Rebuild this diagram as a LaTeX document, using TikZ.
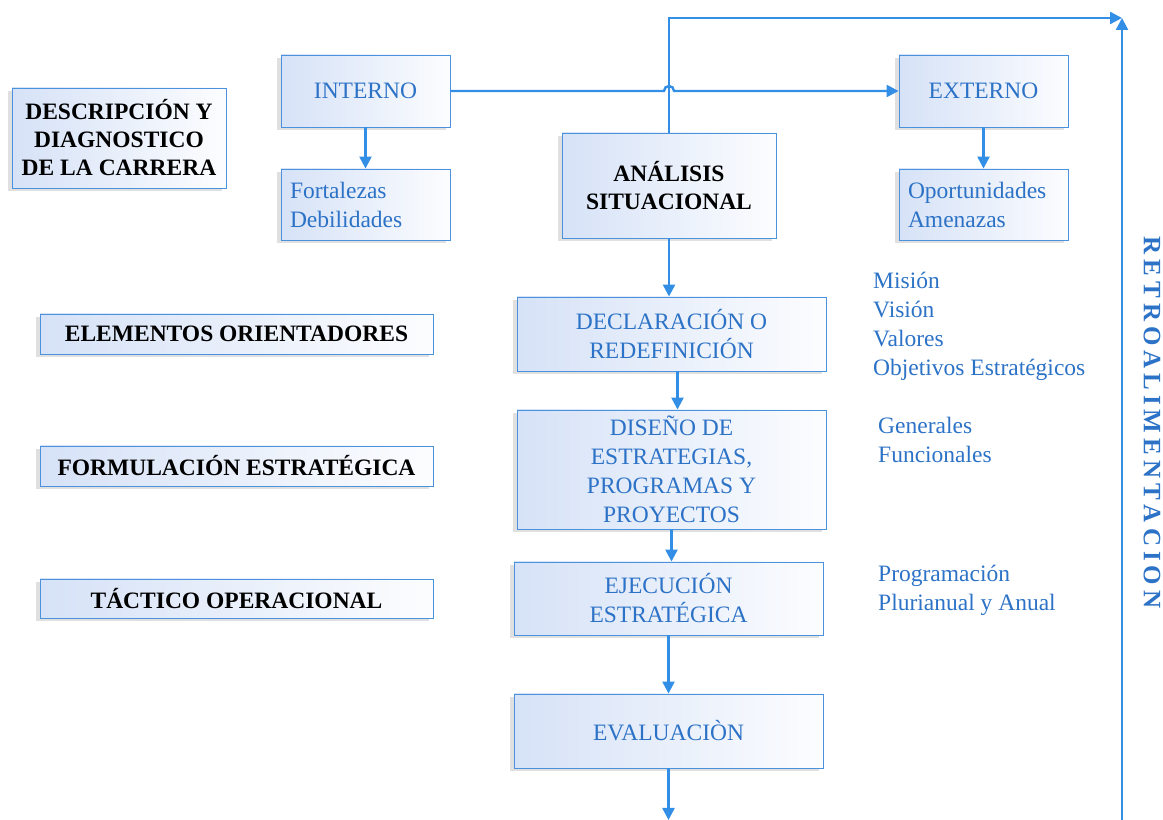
\documentclass[tikz,border=0pt]{standalone}
\usepackage{fontspec}
\setmainfont{Liberation Serif}
\usetikzlibrary{arrows.meta,calc,shadows}
\definecolor{flowline}{RGB}{51,142,230}
\definecolor{flowtext}{RGB}{44,114,198}
\definecolor{boxedge}{RGB}{74,146,222}
\definecolor{boxfill}{RGB}{214,226,247}
\newcommand{\lsp}{\hspace{5bp}}
\tikzset{
  stage/.style={draw=boxedge,line width=0.9bp,left color=boxfill,middle color=white,right color=white!92!boxfill,
    drop shadow={shadow xshift=-4bp,shadow yshift=-3bp,opacity=.12,fill=black},
    text=flowtext,align=center,inner sep=0pt,
    font=\fontsize{23.5bp}{29bp}\selectfont},
  heading/.style={stage,text=black,font=\fontsize{23.5bp}{28bp}\selectfont\bfseries},
  listbox/.style={stage,align=left,text width=#1},
  note/.style={anchor=west,align=left,inner sep=0pt,text=flowtext,
    font=\fontsize{23.5bp}{29bp}\selectfont},
  flow/.style={draw=flowline,line width=2.4bp},
}
\begin{document}
\begin{tikzpicture}[>={Triangle[length=12bp,width=12bp]},line join=miter]
\useasboundingbox (0bp,0bp) rectangle (1163bp,820bp);
%% left column
\node (desc) at (119bp,682bp) [heading,minimum width=214bp,minimum height=100bp] {DESCRIPCIÓN Y\\DIAGNOSTICO\\DE LA CARRERA};
\node (orient) at (236.5bp,486bp) [heading,minimum width=393bp,minimum height=40bp] {ELEMENTOS ORIENTADORES};
\node (formul) at (236.5bp,354bp) [heading,minimum width=393bp,minimum height=40bp] {FORMULACIÓN ESTRATÉGICA};
\node (tactico) at (236.5bp,221.5bp) [heading,minimum width=393bp,minimum height=39bp] {TÁCTICO OPERACIONAL};
%% situational analysis
\node (interno) at (365.5bp,729bp) [stage,minimum width=169bp,minimum height=72bp] {INTERNO};
\node (fort) at (365.5bp,615.5bp) [listbox=151bp,minimum width=169bp,minimum height=71bp] {Fortalezas\\Debilidades};
\node (externo) at (983.5bp,729bp) [stage,minimum width=169bp,minimum height=72bp] {EXTERNO};
\node (oport) at (983.5bp,615.5bp) [listbox=151bp,minimum width=169bp,minimum height=71bp] {Oportunidades\\Amenazas};
\node (analisis) at (669bp,634.5bp) [heading,minimum width=214bp,minimum height=105bp] {ANÁLISIS\\SITUACIONAL};
%% main chain
\node (decl) at (671.5bp,486bp) [stage,minimum width=309bp,minimum height=74bp] {DECLARACIÓN O\\REDEFINICIÓN};
\node (diseno) at (671.5bp,350.5bp) [stage,minimum width=309bp,minimum height=119bp] {DISEÑO DE\\ESTRATEGIAS,\\PROGRAMAS Y\\PROYECTOS};
\node (ejec) at (668.5bp,221.5bp) [stage,minimum width=309bp,minimum height=73bp] {EJECUCIÓN\\ESTRATÉGICA};
\node (eval) at (668.5bp,89bp) [stage,minimum width=309bp,minimum height=74bp] {EVALUACIÒN};
%% side notes
\node (mision) at (873bp,494bp) [note] {Misión\\Visión\\Valores\\Objetivos Estratégicos};
\node (generales) at (878bp,380.5bp) [note] {Generales\\Funcionales};
\node (programa) at (878bp,229.5bp) [note] {Programación\\Plurianual y Anual};
\node (retro) at (1152bp,397.5bp) [rotate=-90,inner sep=0pt,text=flowtext,font=\fontsize{25bp}{25bp}\selectfont\bfseries]
  {R\lsp E\lsp T\lsp R\lsp O\lsp A\lsp L\lsp I\lsp M\lsp E\lsp N\lsp T\lsp A\lsp C\lsp I\lsp O\lsp N};
\coordinate (retro top) at (1122bp,802bp);
\coordinate (retro bottom) at (1122bp,0bp);
%% connectors
\draw [flow,->] (interno) -- (fort);
\draw [flow,->] (externo) -- (oport);
\draw [flow,->] (interno.east) -- ($(analisis.north |- interno.east)+(-5bp,0bp)$)
  arc[start angle=180,end angle=0,radius=5bp] -- (externo.west);
\draw [flow,->] (analisis.north) |- (retro top);
\draw [flow,->] (retro bottom) -- (retro top);
\draw [flow,->] (analisis.south) -- (analisis.south |- decl.north);
\draw [flow,->] ($(decl.south)+(6bp,0bp)$) -- ($(decl.south |- diseno.north)+(6bp,0bp)$);
\draw [flow,->] (diseno.south) -- (diseno.south |- ejec.north);
\draw [flow,->] (ejec.south) -- (eval.north);
\draw [flow,->] (eval.south) -- (eval.south |- retro bottom);
%
\end{tikzpicture}
\end{document}
